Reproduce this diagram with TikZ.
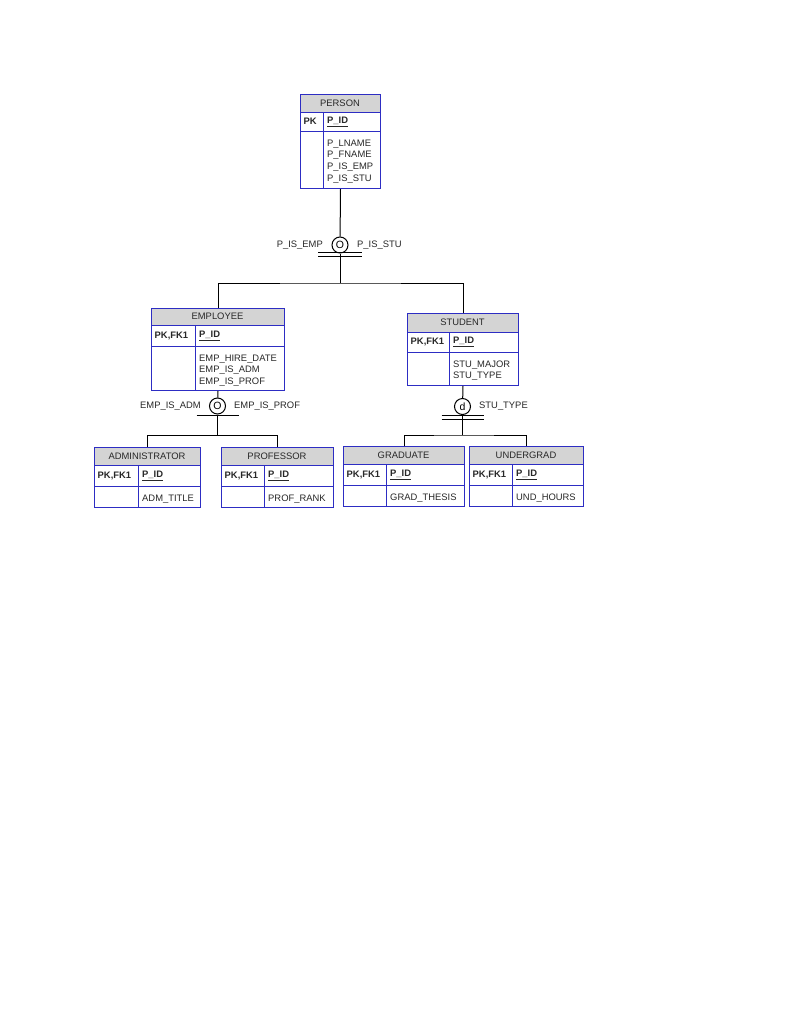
\documentclass[tikz,border=0pt]{standalone}
\usepackage{fontspec}
\setmainfont{Liberation Sans}
\usetikzlibrary{calc}
\definecolor{erblue}{RGB}{45,45,195}
\definecolor{erhdr}{RGB}{212,212,212}
\definecolor{ertext}{RGB}{40,40,40}
\tikzset{
  erbox/.style={draw=erblue, line width=1pt, inner sep=0pt, anchor=north west, rectangle},
  erline/.style={draw=erblue, line width=1pt},
  ertxt/.style={font=\fontsize{9.4}{11.7}\selectfont, inner sep=0pt, text=ertext},
  conn/.style={draw=black, line width=1pt},
  subcirc/.style={circle, draw=black, line width=1pt, minimum size=16pt, inner sep=0pt, font=\fontsize{10.5}{12}\selectfont},
  lbl/.style={font=\fontsize{9.4}{11.7}\selectfont, inner sep=0pt, text=ertext}
}
% #1 name/title, #2 top-left, #3 width, #4 header h, #5 pk h, #6 attr h, #7 divider offset, #8 pk label, #9 attributes
\newcommand\ertable[9]{%
  \coordinate (#1-nw) at (#2);
  \fill[erhdr] (#1-nw) rectangle ++(#3,#4);
  \node[erbox, minimum width={#3*1pt}, minimum height={(#4+#5+#6)*1pt}] (#1) at (#1-nw) {};
  \draw[erline] ($(#1-nw)+(0,#4)$) -- ++(#3,0);
  \draw[erline] ($(#1-nw)+(0,#4+#5)$) -- ++(#3,0);
  \draw[erline] ($(#1-nw)+(#7,#4)$) -- ++(0,#5+#6);
  \node[ertxt] (#1-title) at ($(#1-nw)+(#3/2,#4/2)$) {#1};
  \node[ertxt, anchor=west] (#1-pk) at ($(#1-nw)+(3.5,#4+#5/2)$) {\bfseries #8};
  \node[ertxt, anchor=west] (#1-id) at ($(#1-nw)+(#7+4,#4+#5/2)$) {\bfseries\underline{P\_ID}};
  \node[ertxt, anchor=north west, align=left] (#1-attr) at ($(#1-nw)+(#7+4,#4+#5+8.5)$) {#9};
}
\begin{document}
\begin{tikzpicture}[x=1pt,y=-1pt]
\useasboundingbox[fill=white] (0,0) rectangle (794,1028);

\ertable{PERSON}{300,94}{80}{18}{19}{57}{23}{PK}{P\_LNAME\\P\_FNAME\\P\_IS\_EMP\\P\_IS\_STU}
\ertable{EMPLOYEE}{151,308}{133}{17}{21}{44}{44}{PK,FK1}{EMP\_HIRE\_DATE\\EMP\_IS\_ADM\\EMP\_IS\_PROF}
\ertable{STUDENT}{407,313}{111}{19}{20}{33}{42}{PK,FK1}{STU\_MAJOR\\STU\_TYPE}
\ertable{ADMINISTRATOR}{94,447}{106}{18}{21}{21}{44}{PK,FK1}{ADM\_TITLE}
\ertable{PROFESSOR}{221,447}{112}{18}{21}{21}{43}{PK,FK1}{PROF\_RANK}
\ertable{GRADUATE}{343,446}{121}{18}{21}{21}{43}{PK,FK1}{GRAD\_THESIS}
\ertable{UNDERGRAD}{469,446}{114}{18}{21}{21}{43}{PK,FK1}{UND\_HOURS}

% PERSON subtype
\node[subcirc] (c1) at (340,245) {O};
\coordinate (j1) at (340,283);
\draw[conn] (PERSON.south) -- (c1);
\draw[conn] (c1.south) -- (j1);
\draw[conn] ($(c1)+(-22,7.5)$) -- ++(44,0);
\draw[conn] ($(c1)+(-22,11)$) -- ++(44,0);
\draw[conn] (EMPLOYEE.north) |- (j1) -| (STUDENT.north);
\node[lbl, anchor=east] (l1) at (323,245) {P\_IS\_EMP};
\node[lbl, anchor=west] (l2) at (357,245) {P\_IS\_STU};

% EMPLOYEE subtype
\node[subcirc] (c2) at (217.5,406) {O};
\coordinate (j2) at (217.5,435.5);
\draw[conn] (EMPLOYEE.south) -- (c2);
\draw[conn] (c2.south) -- (j2);
\draw[conn] ($(c2)+(-21,9.5)$) -- ++(42,0);
\draw[conn] (ADMINISTRATOR.north) |- (j2) -| (PROFESSOR.north);
\node[lbl, anchor=east] (l3) at (201,406) {EMP\_IS\_ADM};
\node[lbl, anchor=west] (l4) at (234,406) {EMP\_IS\_PROF};

% STUDENT subtype
\node[subcirc] (c3) at (462.5,406.5) {d};
\coordinate (j3) at (462.5,435);
\draw[conn] (STUDENT.south) -- (c3);
\draw[conn] (c3.south) -- (j3);
\draw[conn] ($(c3)+(-21,8.5)$) -- ++(42,0);
\draw[conn] ($(c3)+(-21,12.5)$) -- ++(42,0);
\draw[conn] (GRADUATE.north) |- (j3) -| (UNDERGRAD.north);
\node[lbl, anchor=west] (l5) at (479,406) {STU\_TYPE};
\end{tikzpicture}
\end{document}
